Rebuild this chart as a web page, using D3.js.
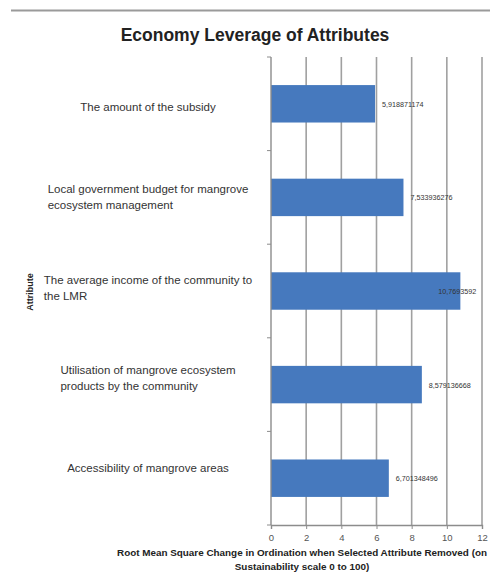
<!DOCTYPE html>
<html>
<head>
<meta charset="utf-8">
<script src="https://cdn.jsdelivr.net/npm/d3@7"></script>
<style>
  body { margin: 0; background: #fff; }
  svg text { font-family: "Liberation Sans", Arial, sans-serif; }
</style>
</head>
<body>
<div id="chart"></div>
<script>
// data
var attributes = [
  ["The amount of the subsidy"],
  ["Local government budget for mangrove", "ecosystem management"],
  ["The average income of the community to", "the LMR"],
  ["Utilisation of mangrove ecosystem", "products by the community"],
  ["Accessibility of mangrove areas"]
];
var values = [5.918871174, 7.533936276, 10.76935921, 8.579136668, 6.701348496];
var valueLabels = ["5,918871174", "7,533936276", "10,7693592", "8,579136668", "6,701348496"];
var xTicks = [0, 2, 4, 6, 8, 10, 12];

var width = 490, height = 579;
var margin = { top: 57, right: 8, bottom: 54, left: 271 };
var plotW = 211, plotH = height - margin.top - margin.bottom;

var svg = d3.select("#chart").append("svg")
  .attr("width", width)
  .attr("height", height);

// grey rule at the top of the scan
svg.append("line")
  .attr("x1", 11).attr("x2", width)
  .attr("y1", 10.5).attr("y2", 10.5)
  .style("stroke", "#9a9a9a")
  .style("stroke-width", 2);

svg.append("text")
  .attr("x", 255)
  .attr("y", 41)
  .attr("text-anchor", "middle")
  .style("font-size", "17.5px")
  .style("font-weight", "bold")
  .style("fill", "#222")
  .text("Economy Leverage of Attributes");

var g = svg.append("g")
  .attr("transform", "translate(" + margin.left + "," + margin.top + ")");

var x = d3.scaleLinear().domain([0, 12]).range([0, plotW]);
var y = d3.scaleBand()
  .domain(d3.range(values.length))
  .range([0, plotH])
  .paddingInner(0.6)
  .paddingOuter(0.3);

// category labels sit slightly off the bar centres in the scan
var labelY = d3.scalePoint()
  .domain(d3.range(values.length))
  .range([50, 411]);

// gridlines
g.selectAll("line.grid")
  .data(xTicks.slice(1))
  .enter().append("line")
  .attr("class", "grid")
  .attr("x1", function(d){ return x(d); })
  .attr("x2", function(d){ return x(d); })
  .attr("y1", 0)
  .attr("y2", plotH)
  .style("stroke", "#a0a0a0")
  .style("stroke-width", 1.6);

g.selectAll("rect.bar")
  .data(values)
  .enter().append("rect")
  .attr("class", "bar")
  .attr("x", 0)
  .attr("y", function(d, i){ return y(i); })
  .attr("width", function(d){ return x(d); })
  .attr("height", y.bandwidth())
  .style("fill", "#4679be");

g.selectAll("text.val")
  .data(values)
  .enter().append("text")
  .attr("class", "val")
  .attr("x", function(d, i){ return i == 2 ? x(d) - 22 : x(d) + 7; })
  .attr("y", function(d, i){ return y(i) + y.bandwidth() / 2 + 3; })
  .style("font-size", "7.2px")
  .style("fill", "#333")
  .text(function(d, i){ return valueLabels[i]; });

// y axis line with small ticks between categories
g.append("line")
  .attr("x1", 0).attr("x2", 0)
  .attr("y1", 0).attr("y2", plotH)
  .style("stroke", "#8c8c8c")
  .style("stroke-width", 1.4);

g.selectAll("line.ytick")
  .data(d3.range(values.length + 1))
  .enter().append("line")
  .attr("class", "ytick")
  .attr("x1", -4).attr("x2", 0)
  .attr("y1", function(d){ return d * plotH / values.length; })
  .attr("y2", function(d){ return d * plotH / values.length; })
  .style("stroke", "#8c8c8c");

// x axis
var xAxis = d3.axisBottom(x).tickValues(xTicks).tickSize(4).tickPadding(5);
var ax = g.append("g")
  .attr("transform", "translate(0," + plotH + ")")
  .call(xAxis);
ax.select(".domain").style("stroke", "#8c8c8c").style("stroke-width", 1.4);
ax.selectAll(".tick line").style("stroke", "#8c8c8c");
ax.selectAll(".tick text")
  .style("font-family", "Liberation Sans, Arial, sans-serif")
  .style("font-size", "9.5px")
  .style("fill", "#555");

// category labels: lines left aligned, block centred
var labels = svg.selectAll("g.cat")
  .data(attributes)
  .enter().append("g")
  .attr("class", "cat");

labels.each(function(lines, i) {
  var grp = d3.select(this);
  var n = lines.length;
  var t = grp.selectAll("text")
    .data(lines)
    .enter().append("text")
    .attr("y", function(d, j){ return margin.top + labelY(i) + (j - (n - 1) / 2) * 16 + 4; })
    .style("font-size", "11.5px")
    .style("fill", "#333")
    .text(function(d){ return d; });
  var w = 0;
  t.each(function(){ w = Math.max(w, this.getComputedTextLength()); });
  t.attr("x", 148 - w / 2);
});

svg.append("text")
  .attr("transform", "translate(33,292) rotate(-90)")
  .attr("text-anchor", "middle")
  .style("font-size", "9px")
  .style("font-weight", "bold")
  .style("fill", "#222")
  .text("Attribute");

svg.append("text")
  .attr("x", 302)
  .attr("y", 556)
  .attr("text-anchor", "middle")
  .style("font-size", "9.9px")
  .style("font-weight", "bold")
  .style("fill", "#222")
  .text("Root Mean Square Change in Ordination when Selected Attribute Removed (on");

svg.append("text")
  .attr("x", 302)
  .attr("y", 570)
  .attr("text-anchor", "middle")
  .style("font-size", "9.9px")
  .style("font-weight", "bold")
  .style("fill", "#222")
  .text("Sustainability scale 0 to 100)");
</script>
</body>
</html>
